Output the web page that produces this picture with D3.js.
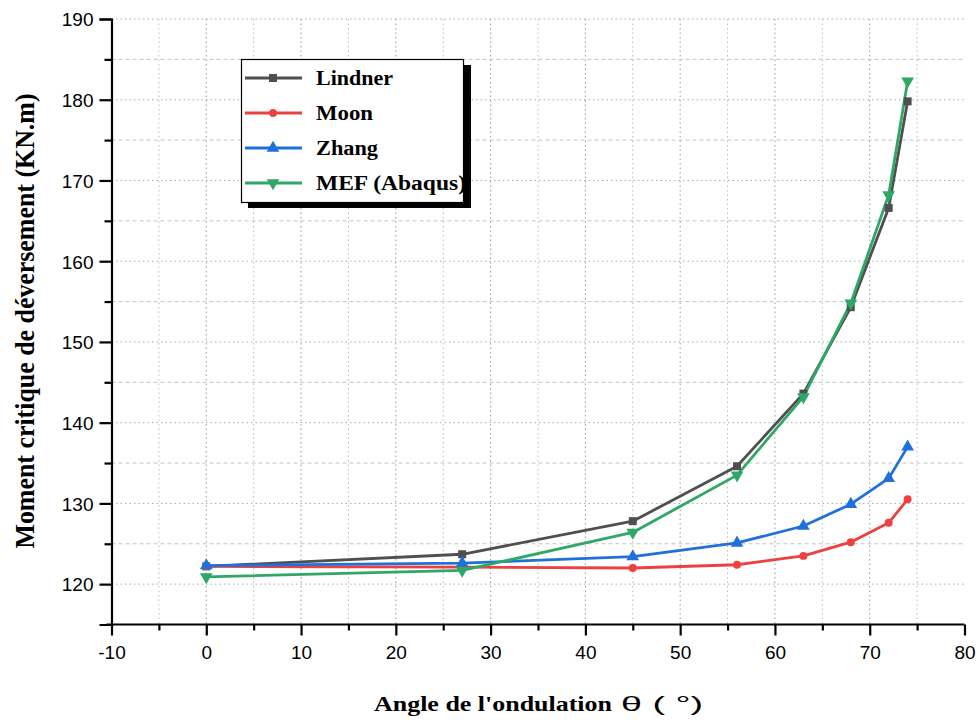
<!DOCTYPE html>
<html>
<head>
<meta charset="utf-8">
<script src="https://cdn.jsdelivr.net/npm/d3@7"></script>
<style>
  html, body { margin: 0; padding: 0; background: #fff; }
  svg { display: block; }
</style>
</head>
<body>
<svg id="chart" width="979" height="720"></svg>
<script>
const angles = [0, 27, 45, 56, 63, 68, 72, 74];
const lindner = [122.2, 123.7, 127.8, 134.6, 143.6, 154.3, 166.6, 179.8];
const moon    = [122.2, 122.1, 122.0, 122.4, 123.5, 125.2, 127.6, 130.5];
const zhang   = [122.3, 122.6, 123.4, 125.1, 127.2, 129.9, 133.1, 137.0];
const mef     = [120.9, 121.7, 126.4, 133.5, 143.2, 154.8, 168.2, 182.3];
const seriesNames = ["Lindner", "Moon", "Zhang", "MEF (Abaqus)"];
const xTicks = [-10, 0, 10, 20, 30, 40, 50, 60, 70, 80];
const yTicks = [120, 130, 140, 150, 160, 170, 180, 190];

(function () {
const colors = ["#4f4f4f", "#ef4040", "#1f6fdd", "#2fa866"];
const markers = [d3.symbolSquare, d3.symbolCircle, d3.symbolTriangle, "down"];
const seriesVals = [lindner, moon, zhang, mef];

const svg = d3.select("#chart");
const pL = 111.5, pR = 964.5, pT = 19, pB = 624.5;
const x = d3.scaleLinear().domain([-10, 80]).range([pL, pR]);
const y = d3.scaleLinear().domain([115, 190]).range([pB, pT]);

// grid
const g = svg.append("g");
d3.range(-5, 80, 5).forEach(v => {
  g.append("line").attr("x1", x(v)).attr("x2", x(v)).attr("y1", pT).attr("y2", pB)
    .attr("stroke", v % 10 === 0 ? "#999" : "#bbb").attr("stroke-width", 1)
    .attr("stroke-dasharray", "1.5,3");
});
d3.range(120, 191, 5).forEach(v => {
  const major = v % 10 === 0;
  g.append("line").attr("x1", pL).attr("x2", pR).attr("y1", y(v)).attr("y2", y(v))
    .attr("stroke", major ? "#aaa" : "#c4c4c4").attr("stroke-width", 1)
    .attr("stroke-dasharray", major ? "1.5,3" : "4,3");
});

// axes
const fmt = d => String(d);
const xAxis = d3.axisBottom(x).tickValues(xTicks).tickSize(11).tickPadding(10).tickFormat(fmt);
const xMinor = d3.axisBottom(x).tickValues(d3.range(-5, 80, 10)).tickSize(6).tickFormat("");
const yAxis = d3.axisLeft(y).tickValues(yTicks).tickSize(12).tickPadding(6).tickFormat(fmt);
const yMinor = d3.axisLeft(y).tickValues(d3.range(125, 190, 10)).tickSize(7).tickFormat("");

function styleAxis(sel) {
  sel.selectAll("path").attr("stroke", "#000").attr("stroke-width", 2.2);
  sel.selectAll("line").attr("stroke", "#000").attr("stroke-width", 2.2);
  sel.selectAll("text").attr("font-family", "Liberation Sans, Arial, sans-serif")
    .attr("font-size", 19).attr("fill", "#000");
}
const gx = svg.append("g").attr("transform", `translate(0,${pB})`).call(xAxis).call(styleAxis);
gx.select("path").attr("d", `M${pL - 5},0H${pR}`);
svg.append("g").attr("transform", `translate(0,${pB})`).call(xMinor).call(styleAxis).select("path").remove();
const gy = svg.append("g").attr("transform", `translate(${pL},0)`).call(yAxis).call(styleAxis);
svg.append("g").attr("transform", `translate(${pL},0)`).call(yMinor).call(styleAxis).select("path").remove();
gy.selectAll("text").attr("dy", "0.36em");

// lines
const line = d3.line().x((d, i) => x(angles[i])).y(d => y(d));
const downTri = {
  draw(ctx, size) {
    const s = Math.sqrt(size / (Math.sqrt(3) / 4));
    const h = s * Math.sqrt(3) / 2;
    ctx.moveTo(-s / 2, -h / 3);
    ctx.lineTo(s / 2, -h / 3);
    ctx.lineTo(0, 2 * h / 3);
    ctx.closePath();
  }
};
function symFor(i) { return markers[i] === "down" ? downTri : markers[i]; }
const markerSizes = [64, 50, 70, 70];

seriesVals.forEach((vals, i) => {
  svg.append("path").datum(vals).attr("d", line).attr("fill", "none")
    .attr("stroke", colors[i]).attr("stroke-width", 2.8).attr("stroke-linejoin", "round");
});
seriesVals.forEach((vals, i) => {
  svg.append("g").selectAll("path").data(vals).join("path")
    .attr("d", d3.symbol().type(symFor(i)).size(markerSizes[i]))
    .attr("transform", (d, j) => `translate(${x(angles[j])},${y(d)})`)
    .attr("fill", colors[i]);
});

// legend
const lg = svg.append("g");
lg.append("rect").attr("x", 248).attr("y", 65).attr("width", 223).attr("height", 143).attr("fill", "#000");
lg.append("rect").attr("x", 241.5).attr("y", 59.5).attr("width", 222).attr("height", 143)
  .attr("fill", "#fff").attr("stroke", "#000").attr("stroke-width", 1.2);
const rowY = [78, 113, 148, 183];
const textLen = [77, 57, 62, 150];
seriesNames.forEach((name, i) => {
  lg.append("line").attr("x1", 245).attr("x2", 302).attr("y1", rowY[i]).attr("y2", rowY[i])
    .attr("stroke", colors[i]).attr("stroke-width", 2.8);
  lg.append("path").attr("d", d3.symbol().type(symFor(i)).size(markerSizes[i]))
    .attr("transform", `translate(273,${rowY[i]})`).attr("fill", colors[i]);
  lg.append("text").attr("x", 316).attr("y", rowY[i] + 7)
    .attr("font-family", "Liberation Serif, Times New Roman, serif").attr("font-weight", "bold")
    .attr("font-size", 20.5).attr("textLength", textLen[i]).attr("lengthAdjust", "spacingAndGlyphs")
    .text(name);
});

// axis titles
svg.append("text").attr("transform", "translate(34,321) rotate(-90)")
  .attr("text-anchor", "middle")
  .attr("font-family", "Liberation Serif, Times New Roman, serif").attr("font-weight", "bold")
  .attr("font-size", 27).attr("textLength", 455).attr("lengthAdjust", "spacingAndGlyphs")
  .text("Moment critique de  déversement (KN.m)");
const xt = svg.append("text").attr("y", 711)
  .attr("font-family", "Liberation Serif, Times New Roman, serif").attr("font-weight", "bold")
  .attr("font-size", 21);
xt.append("tspan").attr("x", 374).attr("textLength", 238).attr("lengthAdjust", "spacingAndGlyphs")
  .text("Angle de l'ondulation");
xt.append("tspan").attr("x", 621).attr("font-family", "Liberation Sans, Arial, sans-serif")
  .attr("font-weight", "normal").attr("font-size", 20).attr("textLength", 82)
  .attr("lengthAdjust", "spacingAndGlyphs").text("θ ( °)");
})();
</script>
</body>
</html>
